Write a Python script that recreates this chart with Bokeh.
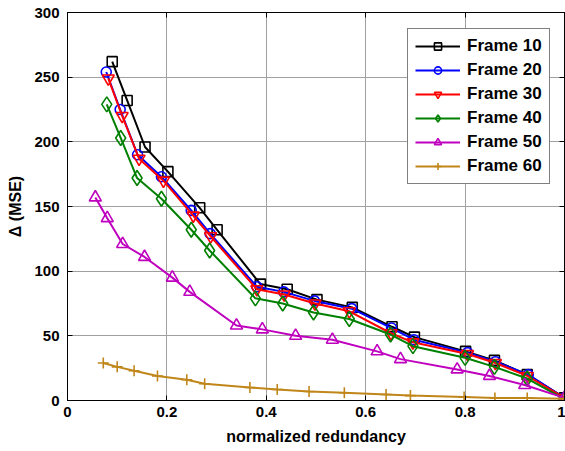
from bokeh.plotting import figure
from bokeh.models import Range1d, LinearAxis, FixedTicker, Legend
from bokeh.embed import file_html
from bokeh.resources import INLINE

# --- data ---
x10 = [0.090, 0.120, 0.156, 0.202, 0.266, 0.301, 0.388, 0.442, 0.502, 0.573, 0.653, 0.698, 0.801, 0.859, 0.925, 1.0]
y10 = [262, 232, 196, 177, 149, 132, 90, 86, 78, 72, 57, 49, 38, 31, 20, 2]

x20 = [0.078, 0.106, 0.141, 0.189, 0.249, 0.287, 0.381, 0.435, 0.497, 0.572, 0.652, 0.697, 0.805, 0.861, 0.927, 1.0]
y20 = [254, 225, 190, 173, 147, 129, 88, 84, 77, 71, 56, 47, 37, 30, 20, 2]

x30 = [0.082, 0.110, 0.144, 0.193, 0.253, 0.288, 0.381, 0.436, 0.498, 0.567, 0.651, 0.695, 0.805, 0.861, 0.925, 1.0]
y30 = [249, 220, 187, 170, 143, 127, 86, 82, 75, 69, 52, 45, 36, 29, 19, 2]

x40 = [0.079, 0.107, 0.140, 0.189, 0.249, 0.286, 0.378, 0.433, 0.495, 0.567, 0.650, 0.695, 0.800, 0.859, 0.925, 1.0]
y40 = [229, 203, 172, 156, 132, 116, 79, 75, 68, 63, 51, 42, 33, 26, 17, 1]

x50 = [0.056, 0.080, 0.111, 0.155, 0.211, 0.246, 0.340, 0.392, 0.459, 0.533, 0.623, 0.670, 0.784, 0.849, 0.920, 1.0]
y50 = [157, 141, 121, 111, 95, 84, 58, 55, 50, 47, 38, 32, 24, 19, 12, 2]

x60 = [0.072, 0.100, 0.134, 0.181, 0.240, 0.276, 0.367, 0.422, 0.486, 0.557, 0.641, 0.690, 0.798, 0.860, 0.925, 1.0]
y60 = [29, 26, 23, 19, 16, 13, 10, 8.5, 7, 6, 4.6, 3.8, 2.8, 2, 2, 1.3]

labels = ["Frame 10", "Frame 20", "Frame 30", "Frame 40", "Frame 50", "Frame 60"]
x_ticks = [0, 0.2, 0.4, 0.6, 0.8, 1.0]
y_ticks = [0, 50, 100, 150, 200, 250, 300]

series = [
    (x10, y10, "#000000", "square", 10),
    (x20, y20, "#0000FF", "circle", 10),
    (x30, y30, "#FF0000", "inverted_triangle", 12),
    (x40, y40, "#008000", "diamond", 15),
    (x50, y50, "#BF00BF", "triangle", 12),
    (x60, y60, "#C0861A", "cross", 11),
]

FONT = "Liberation Sans"

p = figure(width=565, height=451, output_backend="svg", toolbar_location=None,
           x_range=Range1d(0, 1), y_range=Range1d(0, 300),
           min_border_left=67, min_border_right=1, min_border_top=12, min_border_bottom=51)
p.background_fill_color = "white"
p.border_fill_color = "white"
p.outline_line_color = "black"
p.outline_line_width = 1

items = []
for (xs, ys, col, mk, sz), lab in zip(series, labels):
    r1 = p.line(xs, ys, line_color=col, line_width=2)
    r2 = p.scatter(xs, ys, marker=mk, size=sz, line_color=col, fill_color=None, line_width=1.6)
    items.append((lab, [r1, r2]))

# mirrored tick-only axes (top / right), MATLAB box style
p.add_layout(LinearAxis(), "right")
p.add_layout(LinearAxis(), "above")

for ax in p.axis:
    ax.major_tick_in = 5
    ax.major_tick_out = 0
    ax.minor_tick_in = 0
    ax.minor_tick_out = 0
    ax.axis_line_color = "black"
    ax.major_tick_line_color = "black"
    ax.major_label_text_font = FONT
    ax.major_label_text_font_style = "bold"
    ax.major_label_text_font_size = "15px"
    ax.major_label_text_color = "black"
    ax.axis_label_text_font = FONT
    ax.axis_label_text_font_style = "bold"
    ax.axis_label_text_font_size = "16px"
    ax.axis_label_text_color = "black"

for ax in p.xaxis:
    ax.ticker = FixedTicker(ticks=x_ticks)
for ax in p.yaxis:
    ax.ticker = FixedTicker(ticks=y_ticks)

for ax in (p.right[0], p.above[0]):
    ax.major_label_text_font_size = "0px"
    ax.major_label_standoff = 0
    ax.major_label_overrides = {t: "" for t in (x_ticks if ax in p.above else y_ticks)}

bx = p.below[0]
ly = p.left[0]
bx.major_label_overrides = {0: "0", 1: "1"}
bx.axis_label = "normalized redundancy"
ly.axis_label = "\u0394 (MSE)"
bx.major_label_standoff = 6
ly.major_label_standoff = 8
bx.axis_label_standoff = 8
ly.axis_label_standoff = 7

p.xgrid.ticker = FixedTicker(ticks=x_ticks)
p.ygrid.ticker = FixedTicker(ticks=y_ticks)
p.grid.grid_line_color = "#a0a0a0"
p.grid.grid_line_width = 1

legend = Legend(items=items, location=(340, 216))
legend.label_text_font = FONT
legend.label_text_font_style = "bold"
legend.label_text_font_size = "17px"
legend.label_text_color = "black"
legend.border_line_color = "black"
legend.border_line_width = 1
legend.background_fill_color = "white"
legend.background_fill_alpha = 1
legend.glyph_width = 45
legend.glyph_height = 18
legend.label_height = 18
legend.spacing = 4
legend.padding = 7
legend.margin = 0
legend.label_standoff = 7
p.add_layout(legend, "center")

open("out.html", "w").write(file_html(p, INLINE))
